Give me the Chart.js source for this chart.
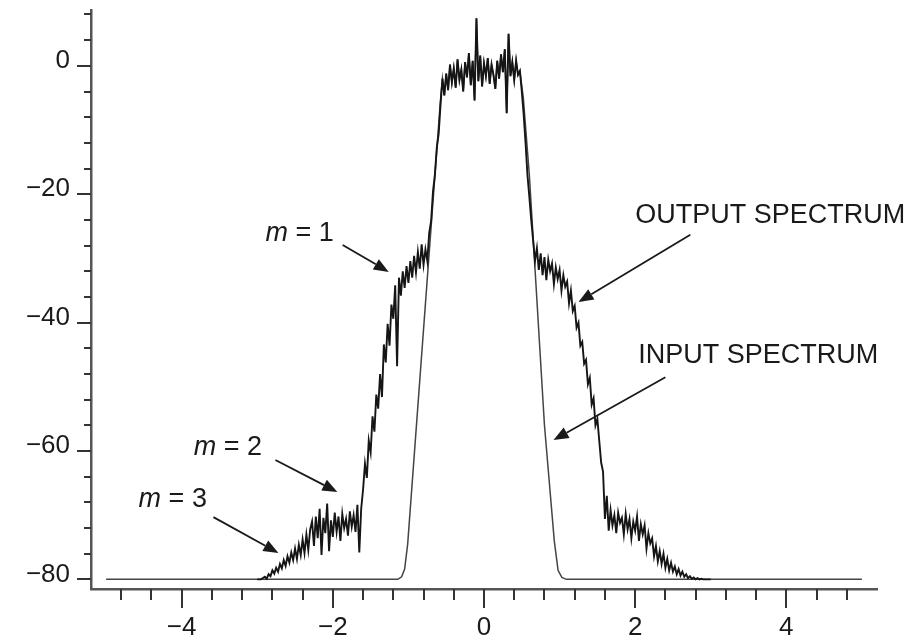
<!DOCTYPE html>
<html>
<head>
<meta charset="utf-8">
<script src="https://cdn.jsdelivr.net/npm/chart.js@4.4.1/dist/chart.umd.min.js"></script>
<style>
  html, body { margin: 0; padding: 0; background: #fff; }
  #spectrum { display: block; }
</style>
</head>
<body>
<canvas id="spectrum" width="908" height="643"></canvas>
<script>
// output spectrum, sampled from -3.0 every 0.025
var outputStart = -3.0;
var outputStep = 0.025;
var outputDb = [
  // m = 3 tail (left)
  -80, -80, -80, -79.8, -79.6, -79.9, -79.2, -79.5, -78.6, -79.1,
  -78.2, -78.8, -77.6, -78.3, -77.0, -77.9, -76.4, -77.4, -75.8, -77.0,
  -75.2, -76.8, -74.6, -76.2, -73.8, -75.9, -73.0, -75.4, -72.2,
  // m = 2 shelf (left)
  -71.0, -74.8, -70.2, -73.6, -69.0, -76.2, -70.4, -72.8, -68.2, -75.6,
  -70.8, -73.4, -69.6, -72.6, -70.2, -74.0, -69.8, -72.0, -70.6, -73.2,
  -69.4, -71.8, -70.0, -72.6, -68.4, -75.8, -69.0,
  // rise to m = 1
  -66.0, -62.0, -64.2, -58.4, -60.2, -54.6, -57.0, -51.2, -53.4, -48.0,
  -51.6, -43.4, -46.2, -40.2, -43.6, -37.2, -39.4,
  // m = 1 shoulder (left)
  -34.2, -46.8, -33.0, -35.8, -32.0, -34.6, -31.2, -33.8, -30.4, -33.0,
  -29.6, -32.2, -29.0, -31.6, -27.8, -31.0, -28.6,
  // inner edge
  -30.4, -26.0, -24.2, -19.6, -17.0, -12.8, -10.6, -6.0,
  // passband
  -2.0, -4.6, -1.2, -3.8, 0.2, -2.6, -0.4, -3.4, 1.0, -2.2,
  -0.6, -4.0, 0.6, -1.8, 2.0, -3.0, 0.8, -5.4, 7.4, -2.4,
  1.6, -3.2, 0.4, -1.6, 1.2, -2.8, 0.2, -1.4, -3.6, 0.8,
  -2.0, 1.8, -1.0, 2.6, -7.4, 5.0, -1.6, 0.6, -2.2, 0.8,
  -1.4, -0.8,
  // inner edge (right)
  -4.0, -7.6, -12.0, -17.0, -20.4, -24.0, -27.2,
  // m = 1 shoulder (right)
  -30.4, -28.4, -31.8, -29.2, -32.6, -29.8, -33.4, -30.2, -32.0, -30.8,
  -34.0, -31.4, -33.2, -31.8, -35.0, -32.6, -34.4, -33.6, -37.0, -35.0,
  -38.2,
  // fall
  -37.4, -40.8, -40.0, -43.6, -43.0, -46.4, -45.8, -49.6, -48.6, -52.8,
  -51.8, -56.0, -55.0, -58.4, -61.8, -63.2,
  // m = 2 shelf (right)
  -70.6, -67.0, -72.4, -69.2, -71.6, -70.0, -72.8, -69.6, -71.2, -70.4,
  -73.0, -69.8, -72.2, -70.6, -73.6, -71.0, -72.4, -70.2, -74.0, -71.4,
  -73.0, -71.6, -75.2, -72.8, -74.4,
  // m = 3 tail (right)
  -73.6, -76.4, -74.8, -77.2, -75.6, -77.6, -76.0, -78.2, -76.8, -78.6,
  -77.4, -78.8, -78.0, -79.2, -78.4, -79.4, -78.8, -79.6, -79.2, -79.8,
  -79.5, -79.9, -79.7, -80.0, -79.8, -80.0, -79.9, -80.0, -80.0, -80.0,
  -80.0, -80.0
];

// input spectrum edges, passband shared with the output
var inputLeftX  = [-5.0, -1.14, -1.09, -1.05, -1.01, -0.58];
var inputLeftDb = [-80, -80, -79.6, -78.4, -74.5, -6];
var inputRightX  = [0.52, 0.6, 0.8, 0.93, 0.98, 1.03, 1.09, 5.0];
var inputRightDb = [-5, -17, -56, -74, -78.6, -79.7, -80, -80];

var xTickLabels = [-4, -2, 0, 2, 4];
var yTickLabels = [-80, -60, -40, -20, 0];
var xMinorTicks = [-4.8, -4.4, -4, -3.6, -3.2, -2.8, -2.4, -2, -1.6, -1.2, -0.8, -0.4, 0,
                   0.4, 0.8, 1.2, 1.6, 2, 2.4, 2.8, 3.2, 3.6, 4, 4.4, 4.8];
var yMinorTicks = [-80, -76, -72, -68, -64, -60, -56, -52, -48, -44, -40, -36, -32, -28,
                   -24, -20, -16, -12, -8, -4, 0, 4, 8];

// annotations (text anchor and arrow in data units)
var noteText  = ['m = 1', 'm = 2', 'm = 3', 'OUTPUT SPECTRUM', 'INPUT SPECTRUM'];
var noteAt    = [[-2.89, -27.3], [-3.84, -60.6], [-4.57, -68.7], [2.0, -24.5], [2.04, -46.3]];
var arrowFrom = [[-1.87, -27.9], [-2.76, -61.4], [-3.58, -70.3], [2.73, -26.3], [2.4, -48.5]];
var arrowTo   = [[-1.26, -32.1], [-1.94, -66.4], [-2.72, -75.9], [1.25, -36.8], [0.92, -58.3]];

var outputPts = outputDb.map(function (v, i) {
  return { x: +(outputStart + i * outputStep).toFixed(3), y: v };
});
var inputPts = inputLeftX.map(function (v, i) { return { x: v, y: inputLeftDb[i] }; })
  .concat(outputPts.filter(function (p) { return p.x >= -0.55 && p.x <= 0.48; }))
  .concat(inputRightX.map(function (v, i) { return { x: v, y: inputRightDb[i] }; }));

var FONT = '"Liberation Sans", Arial, Helvetica, sans-serif';

function fmt(v) {
  return v < 0 ? '\u2212' + Math.abs(v) : String(v);
}

function noPad(s) {
  s.paddingTop = 0; s.paddingBottom = 0; s.paddingLeft = 0; s.paddingRight = 0;
}

// tick marks + arrows and labels
var decorations = {
  id: 'decorations',
  afterDraw: function (chart) {
    var ctx = chart.ctx, a = chart.chartArea;
    var xs = chart.scales.x, ys = chart.scales.y;
    ctx.save();
    ctx.strokeStyle = '#333';
    ctx.lineWidth = 2;
    ctx.beginPath();
    xMinorTicks.forEach(function (v) {
      var px = Math.round(xs.getPixelForValue(v));
      var len = xTickLabels.indexOf(v) >= 0 ? 19 : 11;
      ctx.moveTo(px, a.bottom);
      ctx.lineTo(px, a.bottom + len);
    });
    yMinorTicks.forEach(function (v) {
      var py = Math.round(ys.getPixelForValue(v));
      var len = yTickLabels.indexOf(v) >= 0 ? 14 : 7;
      ctx.moveTo(a.left, py);
      ctx.lineTo(a.left - len, py);
    });
    ctx.stroke();

    ctx.fillStyle = '#1a1a1a';
    ctx.strokeStyle = '#1a1a1a';
    ctx.textBaseline = 'alphabetic';
    noteText.forEach(function (t, i) {
      var tx = xs.getPixelForValue(noteAt[i][0]);
      var ty = ys.getPixelForValue(noteAt[i][1]);
      if (t.charAt(0) === 'm') {
        ctx.font = 'italic 27px ' + FONT;
        ctx.fillText('m', tx, ty);
        var w = ctx.measureText('m').width;
        ctx.font = '27px ' + FONT;
        ctx.fillText(t.slice(1), tx + w, ty);
      } else {
        ctx.font = '27px ' + FONT;
        ctx.fillText(t, tx, ty);
      }

      var x0 = xs.getPixelForValue(arrowFrom[i][0]), y0 = ys.getPixelForValue(arrowFrom[i][1]);
      var x1 = xs.getPixelForValue(arrowTo[i][0]), y1 = ys.getPixelForValue(arrowTo[i][1]);
      var ang = Math.atan2(y1 - y0, x1 - x0);
      var hl = 15, hw = 6;
      ctx.lineWidth = 1.8;
      ctx.beginPath();
      ctx.moveTo(x0, y0);
      ctx.lineTo(x1 - hl * Math.cos(ang), y1 - hl * Math.sin(ang));
      ctx.stroke();
      ctx.beginPath();
      ctx.moveTo(x1, y1);
      ctx.lineTo(x1 - hl * Math.cos(ang) + hw * Math.sin(ang), y1 - hl * Math.sin(ang) - hw * Math.cos(ang));
      ctx.lineTo(x1 - hl * Math.cos(ang) - hw * Math.sin(ang), y1 - hl * Math.sin(ang) + hw * Math.cos(ang));
      ctx.closePath();
      ctx.fill();
    });
    ctx.restore();
  }
};

new Chart(document.getElementById('spectrum'), {
  type: 'line',
  data: {
    datasets: [{
      label: 'OUTPUT SPECTRUM',
      data: outputPts,
      borderColor: '#151515',
      borderWidth: 1.9,
      pointRadius: 0,
      tension: 0,
      order: 0
    }, {
      label: 'INPUT SPECTRUM',
      data: inputPts,
      borderColor: '#444',
      borderWidth: 1.5,
      pointRadius: 0,
      tension: 0,
      order: 1
    }]
  },
  options: {
    responsive: false,
    animation: false,
    layout: { padding: { left: 0, right: 31, top: 10, bottom: 0 } },
    plugins: { legend: { display: false }, tooltip: { enabled: false } },
    scales: {
      x: {
        type: 'linear',
        min: -5.2,
        max: 5.2,
        afterBuildTicks: function (s) { s.ticks = xTickLabels.map(function (v) { return { value: v }; }); },
        afterFit: function (s) { s.height = 54; noPad(s); },
        grid: { display: true, drawOnChartArea: false, drawTicks: false },
        border: { display: true, color: '#555', width: 2.5 },
        ticks: {
          autoSkip: false,
          maxRotation: 0,
          padding: 23,
          color: '#1a1a1a',
          font: { family: FONT, size: 26 },
          callback: fmt
        }
      },
      y: {
        type: 'linear',
        min: -81.5,
        max: 8.7,
        afterBuildTicks: function (s) { s.ticks = yTickLabels.map(function (v) { return { value: v }; }); },
        afterFit: function (s) { s.width = 91; noPad(s); },
        grid: { display: true, drawOnChartArea: false, drawTicks: false },
        border: { display: true, color: '#555', width: 2.5 },
        ticks: {
          autoSkip: false,
          padding: 21,
          labelOffset: -5,
          color: '#1a1a1a',
          font: { family: FONT, size: 26 },
          callback: fmt
        }
      }
    }
  },
  plugins: [decorations]
});
</script>
</body>
</html>
